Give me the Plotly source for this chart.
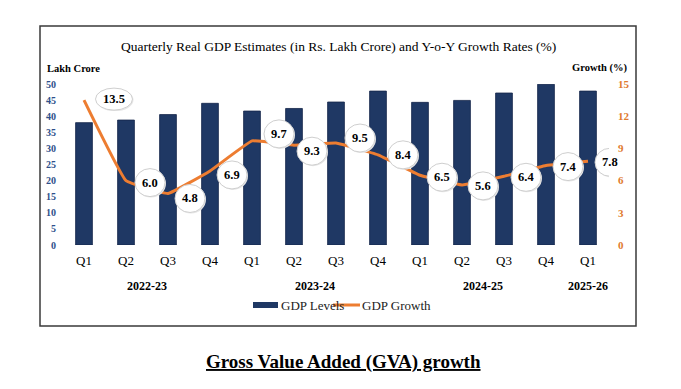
import plotly.graph_objects as go

quarters = ["Q1", "Q2", "Q3", "Q4", "Q1", "Q2", "Q3", "Q4", "Q1", "Q2", "Q3", "Q4", "Q1"]
years = ["2022-23", "2023-24", "2024-25", "2025-26"]
year_pos = [1.5, 5.5, 9.5, 12]
gdp_levels = [38.0, 38.8, 40.5, 44.0, 41.6, 42.4, 44.4, 47.8, 44.3, 44.9, 47.2, 49.9, 47.8]
gdp_growth = [13.5, 6.0, 4.8, 6.9, 9.7, 9.3, 9.5, 8.4, 6.5, 5.6, 6.4, 7.4, 7.8]
left_ticks = [0, 5, 10, 15, 20, 25, 30, 35, 40, 45, 50]
right_ticks = [0, 3, 6, 9, 12, 15]

# label bubble offsets in pixels (dx right, dy up)
label_off = [(30, 1), (24, -2), (22, -5), (22, -4), (27, 7), (18, -6), (24, 5),
             (25, 0), (22, -2), (21, -1), (22, -1), (22, -1), (22, -1)]

SERIF = "Liberation Serif"
NAVY = "#1F3864"
ORANGE = "#ED7D31"
idx = list(range(len(quarters)))

# page has an 8px body margin; plot area in page pixels: x 63..609, y 84..245
OFF = 8
PL, PR, PT, PB = 63, 609, 84, 245
W, H = 681 - 2 * OFF, 389 - 2 * OFF
PW, PH = PR - PL, PB - PT


def px(x):
    return (x - PL) / PW


def py(y):
    return (PB - y) / PH


fig = go.Figure()
fig.add_trace(go.Bar(x=idx, y=gdp_levels, name="GDP Levels", width=0.4, showlegend=False,
                     marker=dict(color=NAVY, line=dict(color="#15264a", width=0.8))))
fig.add_trace(go.Scatter(x=idx, y=gdp_growth, name="GDP Growth", yaxis="y2", mode="lines", showlegend=False,
                         line=dict(color=ORANGE, width=3, shape="spline", smoothing=0.25)))

shapes = []
annotations = []
shapes.append(dict(type="rect", xref="paper", yref="paper", x0=px(40), x1=px(636),
                   y0=py(326), y1=py(26), line=dict(color="#3a3a3a", width=1.5),
                   fillcolor="rgba(0,0,0,0)", layer="below"))

for i, (v, (dx, dy)) in enumerate(zip(gdp_growth, label_off)):
    txt = f"{v:.1f}"
    w = 37 if len(txt) > 3 else 30
    h = 22 if len(txt) > 3 else 28
    shapes.append(dict(type="circle", xref="x", yref="y2", xsizemode="pixel", ysizemode="pixel",
                       xanchor=i, yanchor=v, x0=dx - w / 2 + 1, x1=dx + w / 2 + 1, y0=dy - h / 2 - 1,
                       y1=dy + h / 2 - 1, fillcolor="#E6E6E6", line=dict(width=0)))
    shapes.append(dict(type="circle", xref="x", yref="y2", xsizemode="pixel", ysizemode="pixel",
                       xanchor=i, yanchor=v, x0=dx - w / 2, x1=dx + w / 2, y0=dy - h / 2, y1=dy + h / 2,
                       fillcolor="white", line=dict(color="#CFCFCF", width=1)))
    annotations.append(dict(x=i, y=v, xref="x", yref="y2", text=f"<b>{txt}</b>", showarrow=False,
                            xshift=dx, yshift=dy, yanchor="middle",
                            font=dict(family=SERIF, size=12.5, color="black")))

for y, p in zip(years, year_pos):
    annotations.append(dict(x=p, y=py(286), xref="x", yref="paper", text=f"<b>{y}</b>", showarrow=False,
                            yanchor="middle", font=dict(family=SERIF, size=12, color="black")))

annotations.append(dict(x=px(45), y=py(68), xref="paper", yref="paper", text="<b>Lakh Crore</b>",
                        showarrow=False, xanchor="left", yanchor="middle",
                        font=dict(family=SERIF, size=10.5, color="black")))
annotations.append(dict(x=px(629), y=py(68), xref="paper", yref="paper", text="<b>Growth (%)</b>",
                        showarrow=False, xanchor="right", yanchor="middle",
                        font=dict(family=SERIF, size=10.5, color="black")))
annotations.append(dict(x=px(338), y=py(47), xref="paper", yref="paper",
                        text="Quarterly Real GDP Estimates (in Rs. Lakh Crore) and Y-o-Y Growth Rates (%)",
                        showarrow=False, yanchor="middle", font=dict(family=SERIF, size=13.5, color="black")))
annotations.append(dict(x=px(343), y=py(362), xref="paper", yref="paper",
                        text="<b><u>Gross Value Added (GVA) growth</u></b>", showarrow=False, yanchor="middle",
                        font=dict(family=SERIF, size=19, color="black")))

# custom legend
shapes.append(dict(type="rect", xref="paper", yref="paper", x0=px(253), x1=px(278), y0=py(308), y1=py(302),
                   fillcolor=NAVY, line=dict(width=0)))
annotations.append(dict(x=px(279), y=py(305), xref="paper", yref="paper", text="GDP Levels", showarrow=False,
                        xanchor="left", yanchor="middle", font=dict(family=SERIF, size=13, color="#222222")))
shapes.append(dict(type="line", xref="paper", yref="paper", x0=px(333), x1=px(360), y0=py(305), y1=py(305),
                   line=dict(color=ORANGE, width=3)))
annotations.append(dict(x=px(360), y=py(305), xref="paper", yref="paper", text="GDP Growth", showarrow=False,
                        xanchor="left", yanchor="middle", font=dict(family=SERIF, size=13, color="#222222")))

fig.update_layout(
    width=W, height=H,
    margin=dict(l=PL - OFF, r=W - (PR - OFF), t=PT - OFF, b=H - (PB - OFF), pad=0),
    paper_bgcolor="white", plot_bgcolor="white",
    showlegend=False,
    xaxis=dict(tickvals=idx, ticktext=quarters, range=[-0.5, 12.5], showgrid=False, zeroline=False,
               ticks="", tickfont=dict(family=SERIF, size=13, color="black"), ticklabelstandoff=6),
    yaxis=dict(range=[0, 50], tickvals=left_ticks, ticktext=[f"<b>{t}</b>" for t in left_ticks],
               showgrid=False, zeroline=False,
               tickfont=dict(family=SERIF, size=10, color="#2E4F8A"), ticklabelstandoff=6),
    yaxis2=dict(range=[0, 15], tickvals=right_ticks, ticktext=[f"<b>{t}</b>" for t in right_ticks],
                overlaying="y", side="right", showgrid=False,
                zeroline=False, tickfont=dict(family=SERIF, size=11, color="#E07A2E"), ticklabelstandoff=8),
    shapes=shapes,
    annotations=annotations,
)
fig.write_html("out.html")
